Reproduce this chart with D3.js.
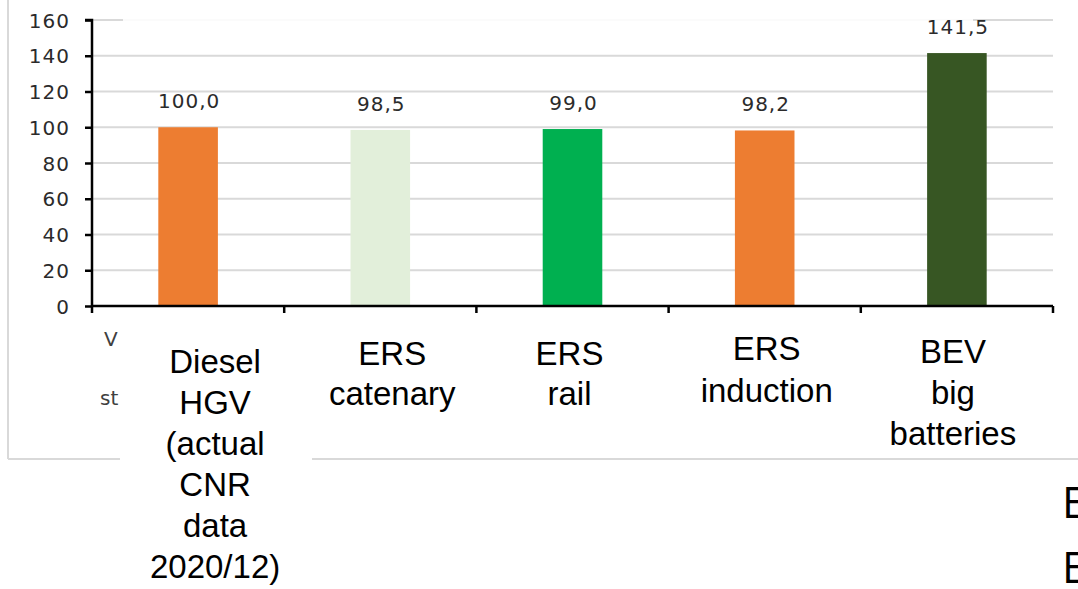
<!DOCTYPE html>
<html>
<head>
<meta charset="utf-8">
<script src="https://cdn.jsdelivr.net/npm/d3@7"></script>
<style>
  html, body { margin: 0; padding: 0; background: #fff; }
  svg { display: block; }
</style>
</head>
<body>
<svg id="chart" width="1078" height="589"></svg>
<script>
// Energy cost index per truck technology (Diesel HGV = 100)
const categories = [
  ["Diesel", "HGV", "(actual", "CNR", "data", "2020/12)"],
  ["ERS", "catenary"],
  ["ERS", "rail"],
  ["ERS", "induction"],
  ["BEV", "big", "batteries"]
];
const values = [100.0, 98.5, 99.0, 98.2, 141.5];
const barColors = ["#ED7D31", "#E2EFDA", "#00B050", "#ED7D31", "#375623"];
const yTicks = [0, 20, 40, 60, 80, 100, 120, 140, 160];

// Layout of the category captions (horizontal nudge, first baseline, line gap)
const captionLayout = [
  { dx: 27, y0: 373, gap: 41, box: [120, 330, 192, 259] },
  { dx: 12, y0: 365, gap: 40, box: null },
  { dx: -3, y0: 365, gap: 40, box: null },
  { dx: 2,  y0: 360, gap: 42, box: null },
  { dx: -4, y0: 363, gap: 41, box: [863, 330, 179, 120] }
];

const svg = d3.select("#chart");
const plot = { left: 92, right: 1053, top: 20, bottom: 306 };

const x = d3.scaleBand()
  .domain(d3.range(values.length))
  .range([plot.left, plot.right])
  .paddingInner(0.69)
  .paddingOuter(0.345);

const y = d3.scaleLinear()
  .domain([0, 160])
  .range([plot.bottom, plot.top]);

const numFmt = v => d3.format(".1f")(v).replace(".", ",");
const numFont = "DejaVu Sans, Verdana, sans-serif";

// Chart frame (left and bottom edges)
svg.append("line")
  .attr("x1", 8).attr("x2", 8).attr("y1", 0).attr("y2", 459)
  .attr("stroke", "#d9d9d9").attr("stroke-width", 2);
svg.append("line")
  .attr("x1", 8).attr("x2", 1078).attr("y1", 459).attr("y2", 459)
  .attr("stroke", "#d9d9d9").attr("stroke-width", 2);

// Horizontal gridlines
svg.append("g")
  .selectAll("line")
  .data(yTicks.filter(d => d > 0))
  .join("line")
  .attr("x1", plot.left).attr("x2", plot.right)
  .attr("y1", d => y(d)).attr("y2", d => y(d))
  .attr("stroke", "#d9d9d9").attr("stroke-width", 2);

// Faded strip along the top edge
svg.append("rect")
  .attr("x", 123).attr("y", 0).attr("width", 850).attr("height", y(160) + 3)
  .attr("fill", "#fff").attr("opacity", 0.88);

// Bars
svg.append("g")
  .selectAll("rect")
  .data(values)
  .join("rect")
  .attr("x", (d, i) => x(i))
  .attr("width", x.bandwidth())
  .attr("y", d => y(d))
  .attr("height", d => y(0) - y(d))
  .attr("fill", (d, i) => barColors[i]);

// Value labels
svg.append("g")
  .selectAll("text")
  .data(values)
  .join("text")
  .attr("x", (d, i) => x(i) + x.bandwidth() / 2 + 1)
  .attr("y", d => y(d) - 19)
  .attr("text-anchor", "middle")
  .attr("font-family", numFont)
  .attr("font-size", 20)
  .attr("letter-spacing", 1)
  .attr("fill", "#2b2b2b")
  .text(d => numFmt(d));

// Y axis
const yAxis = d3.axisLeft(y).tickValues(yTicks).tickSize(7).tickPadding(15);
const gy = svg.append("g")
  .attr("transform", `translate(${plot.left},0)`)
  .call(yAxis);
gy.select(".domain").attr("stroke", "#000").attr("stroke-width", 2.5)
  .attr("d", `M-7,${y(160)}H0V${y(0)}`);
gy.selectAll(".tick line").attr("stroke", "#000").attr("stroke-width", 2.5);
gy.selectAll(".tick text")
  .attr("font-family", numFont)
  .attr("font-size", 20)
  .attr("letter-spacing", 1)
  .attr("fill", "#2b2b2b")
  .attr("dy", "0.36em");

// X axis with ticks at the category boundaries
const boundaries = d3.range(values.length + 1).map(i => plot.left + i * x.step());
const gx = svg.append("g");
gx.append("line")
  .attr("x1", plot.left).attr("x2", plot.right)
  .attr("y1", y(0)).attr("y2", y(0))
  .attr("stroke", "#000").attr("stroke-width", 2.5);
gx.selectAll("line.tk")
  .data(boundaries)
  .join("line")
  .attr("class", "tk")
  .attr("x1", d => d).attr("x2", d => d)
  .attr("y1", y(0)).attr("y2", y(0) + 7)
  .attr("stroke", "#000").attr("stroke-width", 2.5);

// Fragments of a side caption, partly hidden by the first category box
const side = svg.append("g")
  .attr("font-family", numFont)
  .attr("font-size", 20)
  .attr("fill", "#404040");
side.append("text").attr("x", 104).attr("y", 346).text("V");
side.append("text").attr("x", 100).attr("y", 405).text("st");

// Category captions in white boxes
const cap = svg.append("g");
categories.forEach((lines, i) => {
  const L = captionLayout[i];
  const cx = x(i) + x.bandwidth() / 2 + L.dx;
  if (L.box) {
    cap.append("rect")
      .attr("x", L.box[0]).attr("y", L.box[1])
      .attr("width", L.box[2]).attr("height", L.box[3])
      .attr("fill", "#fff");
  }
  const t = cap.append("text")
    .attr("text-anchor", "middle")
    .attr("font-family", "Liberation Sans, Arial, sans-serif")
    .attr("font-size", 33)
    .attr("fill", "#000");
  lines.forEach((s, k) => {
    t.append("tspan").attr("x", cx).attr("y", L.y0 + k * L.gap).text(s);
  });
});

// Text running off the right edge
const edge = svg.append("g")
  .attr("font-family", "Open Sans, Noto Sans, sans-serif")
  .attr("font-size", 43)
  .attr("fill", "#000");
edge.append("text").attr("x", 1062).attr("y", 518).text("E");
edge.append("text").attr("x", 1062).attr("y", 583).text("E");
</script>
</body>
</html>
